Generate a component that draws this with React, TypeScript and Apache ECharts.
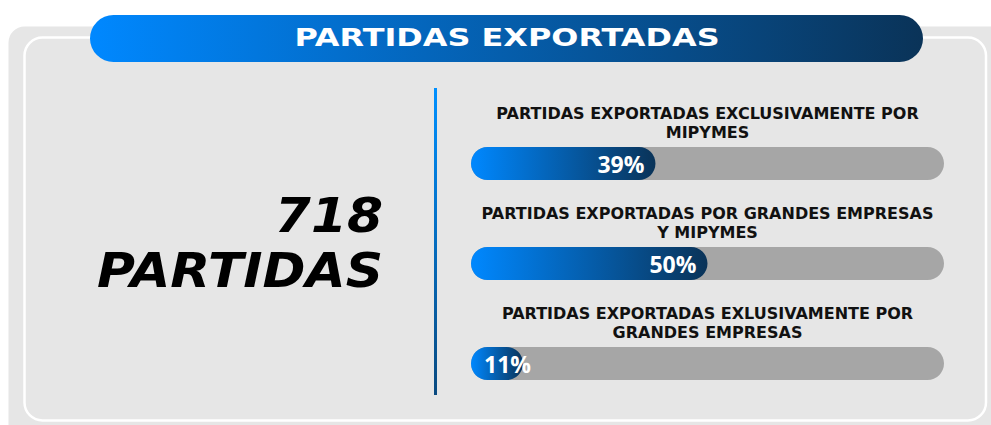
import React, { useEffect, useRef } from "react";
import * as echarts from "echarts";

const title = "PARTIDAS EXPORTADAS";
const totalLine1 = "718";
const totalLine2 = "PARTIDAS";
const categories = [
  "PARTIDAS EXPORTADAS EXCLUSIVAMENTE POR\nMIPYMES",
  "PARTIDAS EXPORTADAS POR GRANDES EMPRESAS\nY MIPYMES",
  "PARTIDAS EXPORTADAS EXLUSIVAMENTE POR\nGRANDES EMPRESAS",
];
const shares = [39, 50, 11];
const scaleMax = 100;

export default function App() {
  const ref = useRef<HTMLDivElement>(null);
  useEffect(() => {
    document.body.style.margin = "0";
    const chart = echarts.init(ref.current!, null, { renderer: "svg" });
    const blueGradH = new echarts.graphic.LinearGradient(0, 0, 1, 0, [
      { offset: 0, color: "#0088ff" },
      { offset: 1, color: "#0a3358" },
    ]);
    chart.setOption({
      animation: false,
      backgroundColor: "#ffffff",
      grid: { left: 471, width: 473, top: 113.5, height: 300 },
      xAxis: { type: "value", min: 0, max: scaleMax, show: false },
      yAxis: {
        type: "category",
        data: categories,
        inverse: true,
        show: false,
      },
      graphic: [
        {
          type: "rect",
          z: 0,
          shape: { x: 8.5, y: 26.5, width: 1000, height: 420, r: 16 },
          style: { fill: "#e6e6e6" },
        },
        {
          type: "rect",
          z: 0,
          shape: { x: 24.5, y: 37.5, width: 961.5, height: 383, r: 18 },
          style: { fill: "none", stroke: "#ffffff", lineWidth: 2.5 },
        },
        {
          type: "rect",
          z: 1,
          shape: { x: 90, y: 15, width: 833, height: 47, r: 23.5 },
          style: { fill: blueGradH },
        },
        {
          type: "group",
          x: 507,
          y: 38,
          scaleX: 1.33,
          z: 10,
          children: [
            {
              type: "text",
              x: 0,
              y: 0,
              z: 10,
              style: {
                text: title,
                fill: "#ffffff",
                font: "bold 24px 'DejaVu Sans'",
                textAlign: "center",
                textVerticalAlign: "middle",
              },
            },
          ],
        },
        {
          type: "rect",
          z: 1,
          shape: { x: 434, y: 88, width: 3, height: 307 },
          style: {
            fill: new echarts.graphic.LinearGradient(0, 0, 0, 1, [
              { offset: 0, color: "#0090ff" },
              { offset: 1, color: "#0a4a80" },
            ]),
          },
        },
        {
          type: "group",
          x: 383,
          y: 0,
          scaleX: 1.08,
          z: 10,
          children: [
            {
              type: "text",
              x: 0,
              y: 216,
              z: 10,
              style: {
                text: totalLine1,
                fill: "#000000",
                font: "italic bold 48px 'DejaVu Sans'",
                textAlign: "right",
                textVerticalAlign: "middle",
              },
            },
            {
              type: "text",
              x: 0,
              y: 271,
              z: 10,
              style: {
                text: totalLine2,
                fill: "#000000",
                font: "italic bold 48px 'DejaVu Sans'",
                textAlign: "right",
                textVerticalAlign: "middle",
              },
            },
          ],
        },
      ],
      series: [
        {
          type: "bar",
          data: shares.map((v) =>
            v < 15
              ? { value: v, label: { position: "insideLeft", distance: 13 } }
              : v
          ),
          barWidth: 33,
          z: 3,
          showBackground: true,
          backgroundStyle: { color: "#a6a6a6", borderRadius: 16.5 },
          itemStyle: {
            borderRadius: 16.5,
            color: new echarts.graphic.LinearGradient(0, 0, 1, 0, [
              { offset: 0, color: "#0088ff" },
              { offset: 1, color: "#0a3358" },
            ]),
          },
          label: {
            show: true,
            position: "insideRight",
            distance: 11,
            formatter: "{c}%",
            color: "#ffffff",
            fontSize: 23,
            fontWeight: "bold",
            fontFamily: "'Open Sans'",
          },
          silent: true,
        },
        {
          type: "bar",
          data: categories.map(() => scaleMax),
          barWidth: 33,
          barGap: "-100%",
          z: 2,
          itemStyle: { color: "rgba(0,0,0,0)" },
          label: {
            show: true,
            position: "top",
            distance: 5,
            formatter: (p: any) => categories[p.dataIndex],
            color: "#111111",
            fontSize: 16,
            lineHeight: 19,
            fontWeight: "bold",
            fontFamily: "'DejaVu Sans'",
            align: "center",
          },
          silent: true,
        },
      ],
    });
    return () => chart.dispose();
  }, []);
  return <div ref={ref} style={{ width: 991, height: 425 }} />;
}
